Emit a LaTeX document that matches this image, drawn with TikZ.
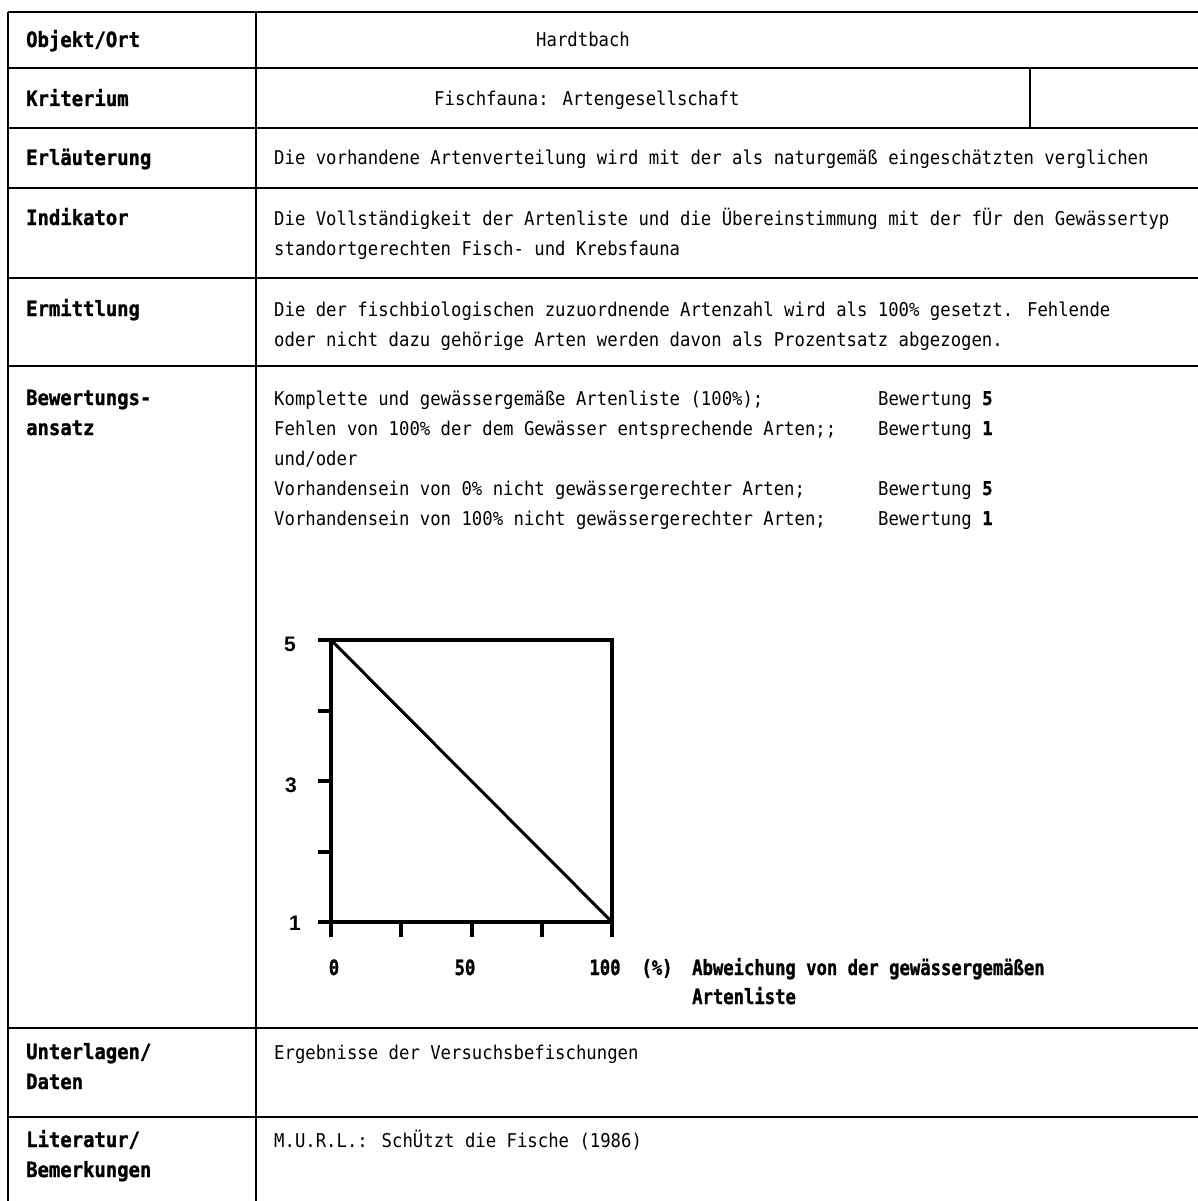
\documentclass[tikz,border=0pt]{standalone}
\usepackage{fontspec}
\newfontfamily\monor[FakeStretch=0.91]{DejaVu Sans Mono}
\newfontfamily\monob[FakeStretch=0.9,FakeBold=1.2]{DejaVu Sans Mono}
\newfontfamily\monobn[FakeStretch=0.82,FakeBold=1.2]{DejaVu Sans Mono}
\newfontfamily\helvb{Liberation Sans}
\begin{document}
\begin{tikzpicture}[x=1pt,y=-1pt,
  grid/.style={line width=2.2pt,black},
  lbl/.style={anchor=base west,inner sep=0pt,font=\monob\bfseries\fontsize{21}{30}\selectfont},
  axt/.style={anchor=base west,inner sep=0pt,font=\monobn\bfseries\fontsize{21}{30}\selectfont},
  txt/.style={anchor=base west,inner sep=0pt,font=\monor\fontsize{19}{30}\selectfont},
  axl/.style={anchor=base,inner sep=0pt,font=\monobn\bfseries\fontsize{21}{30}\selectfont},
  ynum/.style={anchor=center,inner sep=0pt,font=\helvb\bfseries\fontsize{21}{24}\selectfont},
  frame/.style={line width=4pt,line cap=rect},
  tick/.style={line width=3.4pt}]
\useasboundingbox (0,0) rectangle (1198,1201);
\fill[white] (0,0) rectangle (1198,1201);
% table grid
\draw[grid] (8,12) -- (8,1201);
\draw[grid] (256,12) -- (256,1201);
\foreach \y in {12,68,128,188,278,366,1028,1117}
  \draw[grid] (8,\y) -- (1198,\y);
\draw[grid] (1030,68) -- (1030,128);
% left labels
\node[lbl] (l1) at (26,47) {Objekt/Ort};
\node[lbl] (l2) at (26,106) {Kriterium};
\node[lbl] (l3) at (26,165) {Erläuterung};
\node[lbl] (l4) at (26,225) {Indikator};
\node[lbl] (l5) at (26,316) {Ermittlung};
\node[lbl] (l6a) at (26,405) {Bewertungs-};
\node[lbl] (l6b) at (26,435) {ansatz};
\node[lbl] (l7a) at (26,1059) {Unterlagen/};
\node[lbl] (l7b) at (26,1089) {Daten};
\node[lbl] (l8a) at (26,1147) {Literatur/};
\node[lbl] (l8b) at (26,1177) {Bemerkungen};
% contents
\node[txt] (t1) at (536,47) {Hardtbach};
\node[txt] (t2) at (434,106) {Fischfauna: Artengesellschaft};
\node[txt] (t3) at (274,165) {Die vorhandene Artenverteilung wird mit der als naturgemäß eingeschätzten verglichen};
\node[txt] (t4a) at (274,225) {Die Vollständigkeit der Artenliste und die Übereinstimmung mit der fÜr den Gewässertyp};
\node[txt] (t4b) at (274,255) {standortgerechten Fisch- und Krebsfauna};
\node[txt] (t5a) at (274,316) {Die der fischbiologischen zuzuordnende Artenzahl wird als 100\% gesetzt. Fehlende};
\node[txt] (t5b) at (274,346) {oder nicht dazu gehörige Arten werden davon als Prozentsatz abgezogen.};
\node[txt] (b1) at (274,405) {Komplette und gewässergemäße Artenliste (100\%);};
\node[txt] (b2) at (274,435) {Fehlen von 100\% der dem Gewässer entsprechende Arten;;};
\node[txt] (b3) at (274,465) {und/oder};
\node[txt] (b4) at (274,495) {Vorhandensein von 0\% nicht gewässergerechter Arten;};
\node[txt] (b5) at (274,525) {Vorhandensein von 100\% nicht gewässergerechter Arten;};
\node[txt] (r1) at (878,405) {Bewertung {\monob\bfseries 5}};
\node[txt] (r2) at (878,435) {Bewertung {\monob\bfseries 1}};
\node[txt] (r4) at (878,495) {Bewertung {\monob\bfseries 5}};
\node[txt] (r5) at (878,525) {Bewertung {\monob\bfseries 1}};
\node[txt] (t7) at (274,1059) {Ergebnisse der Versuchsbefischungen};
\node[txt] (t8) at (274,1147) {M.U.R.L.: SchÜtzt die Fische (1986)};
% graph
\coordinate (p5) at (331,640);
\coordinate (p1) at (331,922);
\coordinate (q5) at (612,640);
\coordinate (q1) at (612,922);
\draw[frame] (p1) -- (p5) -- (q5) -- (q1) -- cycle;
\draw[line width=3pt] (p5) -- (q1);
\foreach \y in {640,711,781,852,922}
  \draw[tick] (318,\y) -- (331,\y);
\foreach \x in {331,401,472,542,612}
  \draw[tick] (\x,922) -- (\x,937);
\node[ynum] (y5) at (290,644) {5};
\node[ynum] (y3) at (291,785) {3};
\node[ynum] (y1) at (295,923) {1};
\node[axl] (x0) at (334,975) {0};
\node[axl] (x50) at (465,975) {50};
\node[axl] (x100) at (605,975) {100};
\node[axl] (xp) at (657,975) {(\%)};
\node[axt] (xt1) at (692,975) {Abweichung von der gewässergemäßen};
\node[axt] (xt2) at (692,1004) {Artenliste};
\end{tikzpicture}
\end{document}
